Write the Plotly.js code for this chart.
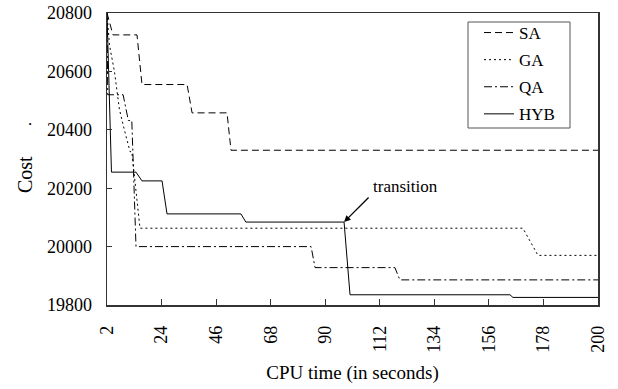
<!DOCTYPE html>
<html>
<head>
<meta charset="utf-8">
<script src="https://cdn.plot.ly/plotly-3.0.1.min.js"></script>
<style>html,body{margin:0;padding:0;background:#fff;}#chart{width:618px;height:389px;}</style>
</head>
<body>
<div id="chart"></div>
<script>
const xTicks = [2, 24, 46, 68, 90, 112, 134, 156, 178, 200];
const yTicks = [19800, 20000, 20200, 20400, 20600, 20800];

const saX = [2, 4.4, 14.1, 16.1, 34.3, 36.3, 50.4, 52, 200];
const saY = [20800, 20725, 20725, 20555, 20555, 20458, 20458, 20330, 20330];

const gaX = [2, 3, 5, 7, 9, 11.3, 12, 15.3, 169.7, 175.8, 200];
const gaY = [20800, 20690, 20600, 20470, 20400, 20325, 20325, 20063, 20063, 19970, 19970];

const qaX = [2, 2.3, 8.5, 10.6, 12, 13.7, 84.3, 85.9, 118.1, 120.1, 200];
const qaY = [20800, 20520, 20520, 20432, 20432, 20000, 20000, 19928, 19928, 19886, 19886];

const hybX = [2, 3.8, 13.7, 16.1, 24.2, 26.2, 56, 58, 97.6, 100, 164.5, 165.7, 200];
const hybY = [20800, 20255, 20255, 20225, 20225, 20112, 20112, 20084, 20084, 19835, 19835, 19826, 19826];

const font = "'Liberation Serif', 'Times New Roman', serif";

const L = 107, R = 598, T = 13, B = 305;
const px = v => (v - L) / (R - L);
const py = v => (B - v) / (B - T);

const traces = [
  {x: saX, y: saY, name: 'SA', legendgroup: 'a', mode: 'lines', line: {color: '#000', width: 1, dash: '7px,4px'}},
  {x: gaX, y: gaY, name: 'GA', legendgroup: 'b', mode: 'lines', line: {color: '#000', width: 1, dash: '2px,3px'}},
  {x: qaX, y: qaY, name: 'QA', legendgroup: 'c', mode: 'lines', line: {color: '#000', width: 1, dash: '8px,3px,2px,3px'}},
  {x: hybX, y: hybY, name: 'HYB', legendgroup: 'd', mode: 'lines', line: {color: '#000', width: 1}}
];

const layout = {
  width: 618, height: 389,
  margin: {l: L, r: 618 - R, t: T, b: 389 - B},
  paper_bgcolor: '#fff', plot_bgcolor: '#fff',
  font: {family: font, size: 17, color: '#000'},
  showlegend: true,
  legend: {
    x: px(479), xanchor: 'left',
    y: py(15), yanchor: 'top',
    borderwidth: 0, bgcolor: 'rgba(0,0,0,0)',
    font: {family: font, size: 17, color: '#000'},
    itemwidth: 30, tracegroupgap: 2
  },
  shapes: [
    {type: 'rect', xref: 'paper', yref: 'paper', x0: px(468), x1: px(570), y0: py(128), y1: py(22),
     line: {color: '#555', width: 1}, fillcolor: 'rgba(0,0,0,0)', layer: 'below'}
  ],
  xaxis: {
    range: [2, 200], tickvals: xTicks, ticktext: xTicks.map(String),
    tickangle: -90, ticks: 'inside', ticklen: 6, tickcolor: '#333',
    showline: true, linecolor: '#333', linewidth: 1.5, mirror: true,
    showgrid: false, zeroline: false,
    tickfont: {family: font, size: 18},
    ticklabelstandoff: 12,
    title: {text: 'CPU time (in seconds)', font: {family: font, size: 19}, standoff: 14}
  },
  yaxis: {
    range: [19800, 20800], tickvals: yTicks, ticktext: yTicks.map(String),
    ticks: 'inside', ticklen: 5, tickcolor: '#333',
    showline: true, linecolor: '#333', linewidth: 1.5, mirror: true,
    showgrid: false, zeroline: false,
    tickfont: {family: font, size: 18},
    ticklabelstandoff: 10
  },
  annotations: [
    {text: 'Cost', xref: 'paper', yref: 'paper', x: px(25), y: py(175),
     textangle: -90, showarrow: false, font: {family: font, size: 20}, xanchor: 'center', yanchor: 'middle'},
    {text: '.', xref: 'paper', yref: 'paper', x: px(30), y: py(119),
     showarrow: false, font: {family: font, size: 17}, xanchor: 'center', yanchor: 'middle'},
    {text: 'transition', xref: 'x', yref: 'y', x: 2 + (406 - L) / 2.48, y: 20800 - (186 - T) / 0.292,
     showarrow: false, font: {family: font, size: 17}, xanchor: 'center', yanchor: 'middle'},
    {text: '', xref: 'x', yref: 'y', x: 97.6, y: 20084, showarrow: true,
     ax: 26, ay: -26, arrowhead: 2, arrowsize: 1, arrowwidth: 1.3, arrowcolor: '#000', standoff: 0}
  ]
};

Plotly.newPlot('chart', traces, layout, {displayModeBar: false, staticPlot: true});
</script>
</body>
</html>
